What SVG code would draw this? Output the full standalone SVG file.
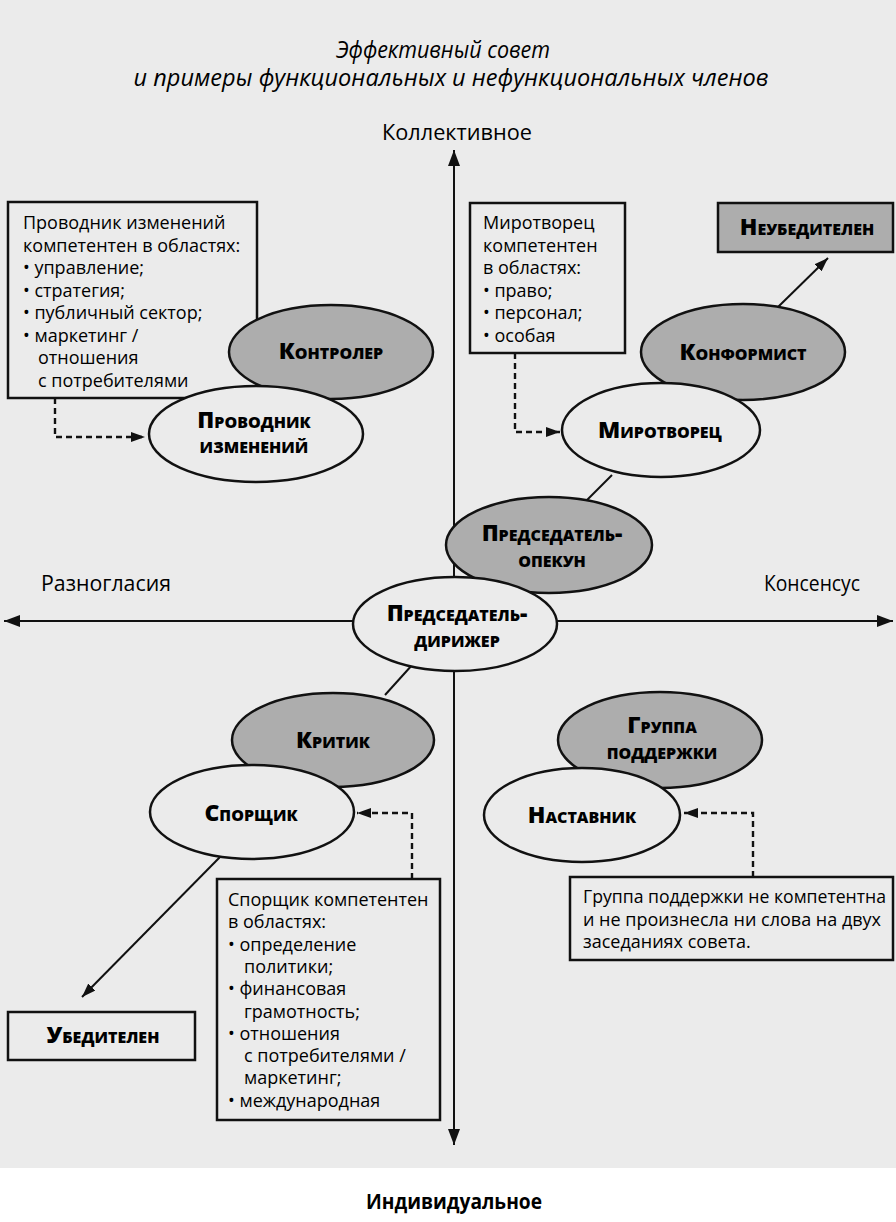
<svg xmlns="http://www.w3.org/2000/svg" width="896" height="1222" viewBox="0 0 896 1222">
<defs>
<style>
.bg{fill:#ebebeb}
.box{fill:none;stroke:#111;stroke-width:2.5}
.ell{stroke:#111;stroke-width:2.5}
.w{fill:#ebebeb}
.g{fill:#adadad}
.txt{font-family:"Open Sans","Noto Sans",sans-serif;font-size:18px;font-weight:500;fill:#000}
.lbl{font-family:"Open Sans","Noto Sans",sans-serif;font-weight:800;font-size:23px;font-variant:small-caps;fill:#000;text-anchor:middle}
.axis{stroke:#111;stroke-width:2;fill:none}
.line{stroke:#111;stroke-width:2;fill:none}
.dash{stroke:#111;stroke-width:2.4;stroke-dasharray:6 4;fill:none}
.title{font-family:"Open Sans","Noto Sans",sans-serif;font-style:italic;font-size:24px;fill:#000;text-anchor:middle}
.axl{font-family:"Open Sans","Noto Sans",sans-serif;font-size:22px;fill:#000}
</style>
<marker id="ah" viewBox="0 0 14 10" refX="14" refY="5" markerWidth="14" markerHeight="10" markerUnits="userSpaceOnUse" orient="auto"><path d="M0,0 L14,5 L0,10 z" fill="#111"/></marker>
<marker id="ahl" viewBox="0 0 16 12" refX="16" refY="6" markerWidth="16" markerHeight="12" markerUnits="userSpaceOnUse" orient="auto"><path d="M0,0 L16,6 L0,12 z" fill="#111"/></marker>
</defs>

<rect class="bg" x="0" y="0" width="896" height="1168"/>
<rect x="0" y="1168" width="896" height="54" fill="#ffffff"/>

<g id="title">
<text class="title" x="443" y="58" textLength="214" lengthAdjust="spacingAndGlyphs">Эффективный совет</text>
<text class="title" x="451" y="86" textLength="635" lengthAdjust="spacingAndGlyphs">и примеры функциональных и нефункциональных членов</text>
</g>

<g id="axis-labels">
<text class="axl" x="457" y="140" text-anchor="middle" textLength="150" lengthAdjust="spacingAndGlyphs">Коллективное</text>
<text class="axl" x="41" y="591" textLength="130" lengthAdjust="spacingAndGlyphs">Разногласия</text>
<text class="axl" x="860" y="591" text-anchor="end" textLength="96" lengthAdjust="spacingAndGlyphs">Консенсус</text>
<text class="axl" x="454" y="1209" text-anchor="middle" font-weight="bold" textLength="176" lengthAdjust="spacingAndGlyphs">Индивидуальное</text>
</g>

<g id="connectors">
<line class="axis" x1="454" y1="1000" x2="454" y2="150" marker-end="url(#ahl)"/>
<line class="axis" x1="454" y1="600" x2="454" y2="1145" marker-end="url(#ahl)"/>
<line class="axis" x1="450" y1="621" x2="4" y2="621" marker-end="url(#ahl)"/>
<line class="axis" x1="450" y1="621" x2="893" y2="621" marker-end="url(#ahl)"/>
<polyline class="dash" points="55,398 55,437 145,437" marker-end="url(#ah)"/>
<polyline class="dash" points="515,353 515,432 560,432" marker-end="url(#ah)"/>
<polyline class="dash" points="412,879 412,813 357,813" marker-end="url(#ah)"/>
<polyline class="dash" points="753,877 753,813 684,813" marker-end="url(#ah)"/>
<line class="line" x1="778" y1="307" x2="828" y2="258" marker-end="url(#ah)"/>
<line class="line" x1="612" y1="475" x2="585" y2="502"/>
<line class="line" x1="413" y1="664" x2="385" y2="695"/>
<line class="line" x1="220" y1="857" x2="82" y2="997" marker-end="url(#ah)"/>
</g>

<g id="box-provodnik">
<rect class="box" x="8" y="202" width="249" height="196"/>
<text class="txt">
<tspan x="23" y="229">Проводник изменений</tspan>
<tspan x="23" y="251.5">компетентен в областях:</tspan>
<tspan x="23" y="274">• управление;</tspan>
<tspan x="23" y="296.5">• стратегия;</tspan>
<tspan x="23" y="319">• публичный сектор;</tspan>
<tspan x="23" y="341.5">• маркетинг /</tspan>
<tspan x="38" y="364">отношения</tspan>
<tspan x="38" y="386.5">с потребителями</tspan>
</text>
</g>

<g id="box-mirotvorets">
<rect class="box" x="470" y="203" width="155" height="150"/>
<text class="txt">
<tspan x="483" y="229">Миротворец</tspan>
<tspan x="483" y="251.5">компетентен</tspan>
<tspan x="483" y="274">в областях:</tspan>
<tspan x="483" y="296.5">• право;</tspan>
<tspan x="483" y="319">• персонал;</tspan>
<tspan x="483" y="341.5">• особая</tspan>
</text>
</g>

<g id="box-neubeditelen">
<rect class="box g" x="718" y="203" width="175" height="49"/>
<text class="lbl" x="807" y="235">Неубедителен</text>
</g>

<g id="kontroler">
<ellipse class="ell g" cx="331" cy="352" rx="102" ry="47"/>
<text class="lbl" x="331" y="359">Контролер</text>
</g>

<g id="provodnik">
<ellipse class="ell w" cx="256" cy="434" rx="107" ry="48"/>
<text class="lbl" x="254" y="428">Проводник</text>
<text class="lbl" x="254" y="453">изменений</text>
</g>

<g id="konformist">
<ellipse class="ell g" cx="743" cy="352" rx="102" ry="48"/>
<text class="lbl" x="743" y="360">Конформист</text>
</g>

<g id="mirotvorets">
<ellipse class="ell w" cx="661" cy="430" rx="99" ry="47"/>
<text class="lbl" x="660" y="438">Миротворец</text>
</g>

<g id="opekun">
<ellipse class="ell g" cx="549" cy="545" rx="103" ry="48"/>
<text class="lbl" x="552" y="541">Председатель-</text>
<text class="lbl" x="552" y="567">опекун</text>
</g>

<g id="dirizher">
<ellipse class="ell w" cx="455" cy="624" rx="102" ry="47"/>
<text class="lbl" x="457" y="621">Председатель-</text>
<text class="lbl" x="457" y="647">дирижер</text>
</g>

<g id="kritik">
<ellipse class="ell g" cx="333" cy="740" rx="101" ry="47"/>
<text class="lbl" x="333" y="748">Критик</text>
</g>

<g id="gruppa">
<ellipse class="ell g" cx="660" cy="740" rx="102" ry="48"/>
<text class="lbl" x="662" y="733">Группа</text>
<text class="lbl" x="662" y="759">поддержки</text>
</g>

<g id="sporshik">
<ellipse class="ell w" cx="252" cy="812" rx="102" ry="47"/>
<text class="lbl" x="251" y="821">Спорщик</text>
</g>

<g id="nastavnik">
<ellipse class="ell w" cx="582" cy="815" rx="98" ry="47"/>
<text class="lbl" x="582" y="823">Наставник</text>
</g>

<g id="box-sporshik">
<rect class="box" x="217" y="879" width="223" height="241"/>
<text class="txt">
<tspan x="228" y="906">Спорщик компетентен</tspan>
<tspan x="228" y="928.3">в областях:</tspan>
<tspan x="228" y="950.6">• определение</tspan>
<tspan x="244" y="972.9">политики;</tspan>
<tspan x="228" y="995.2">• финансовая</tspan>
<tspan x="244" y="1017.5">грамотность;</tspan>
<tspan x="228" y="1039.8">• отношения</tspan>
<tspan x="244" y="1062.1">с потребителями /</tspan>
<tspan x="244" y="1084.4">маркетинг;</tspan>
<tspan x="228" y="1106.7">• международная</tspan>
</text>
</g>

<g id="box-gruppa-note">
<rect class="box" x="570" y="877" width="323" height="83"/>
<text class="txt">
<tspan x="583" y="903" textLength="303" lengthAdjust="spacingAndGlyphs">Группа поддержки не компетентна</tspan>
<tspan x="583" y="925.5">и не произнесла ни слова на двух</tspan>
<tspan x="583" y="948">заседаниях совета.</tspan>
</text>
</g>

<g id="box-ubeditelen">
<rect class="box" x="8" y="1012" width="187" height="48"/>
<text class="lbl" x="103" y="1043">Убедителен</text>
</g>
</svg>
